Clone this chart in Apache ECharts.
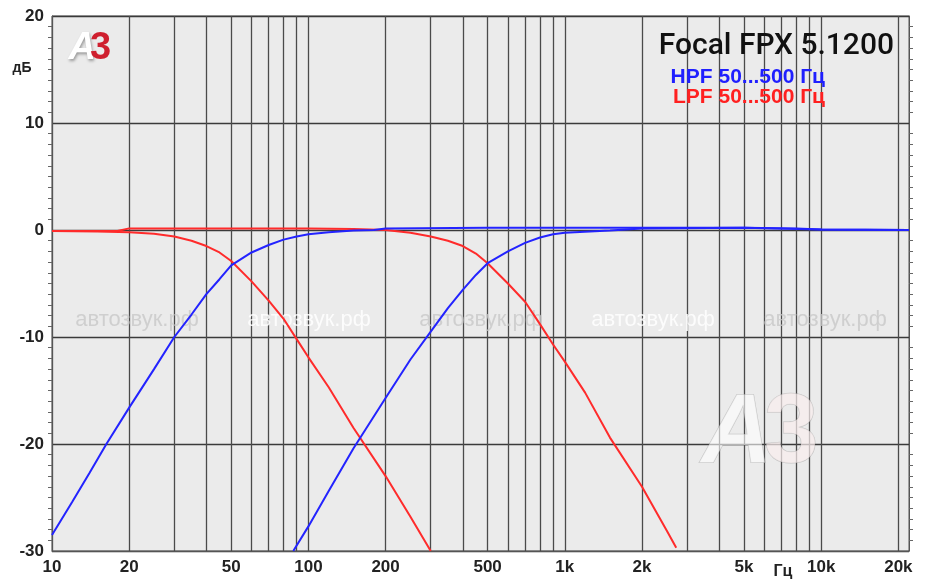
<!DOCTYPE html>
<html>
<head>
<meta charset="utf-8">
<script src="https://cdn.jsdelivr.net/npm/echarts@6/dist/echarts.min.js"></script>
<style>
html,body{margin:0;padding:0;background:#fff;}
#c{width:925px;height:582px;}
</style>
</head>
<body>
<div id="c"></div>
<script>
// ---- data (frequency in Hz, level in dB) ----
const hpf50Freq = [10, 12, 14, 16.3, 20, 25, 30, 35, 40, 45, 50, 60, 70, 80, 90, 100, 120, 150, 180, 200, 500, 1000, 2000, 5000, 8000, 10000, 22000];
const hpf50Db   = [-28.5, -25.4, -22.7, -20.0, -16.6, -13.0, -10.0, -7.9, -6.0, -4.6, -3.3, -2.1, -1.4, -0.9, -0.6, -0.4, -0.2, -0.05, 0.0, 0.15, 0.2, 0.2, 0.2, 0.2, 0.15, 0.05, 0.0];

const lpf50Freq = [10, 15, 20, 25, 30, 35, 40, 45, 50, 60, 70, 80, 90, 100, 120, 150, 200, 250, 300];
const lpf50Db   = [-0.1, -0.15, -0.2, -0.35, -0.6, -1.0, -1.5, -2.1, -2.9, -4.8, -6.6, -8.3, -10.2, -11.9, -14.7, -18.5, -23.0, -26.8, -30.0];

const hpf500Freq = [87.3, 100, 120, 150, 200, 250, 300, 350, 400, 450, 500, 600, 700, 800, 900, 1000, 1500, 2000, 5000, 10000, 22000];
const hpf500Db   = [-30.0, -27.7, -24.4, -20.4, -15.7, -12.1, -9.5, -7.3, -5.6, -4.2, -3.1, -2.0, -1.2, -0.7, -0.4, -0.25, -0.05, 0.15, 0.2, 0.05, 0.0];

const lpf500Freq = [10, 18, 20, 100, 150, 200, 250, 300, 350, 400, 450, 500, 600, 700, 800, 900, 1000, 1200, 1500, 2000, 2500, 2720];
const lpf500Db   = [-0.1, -0.1, 0.15, 0.15, 0.1, 0.0, -0.25, -0.6, -1.0, -1.5, -2.2, -3.1, -5.0, -6.7, -8.8, -10.7, -12.3, -15.2, -19.4, -24.0, -28.1, -29.7];

const gridFreqs  = [10,20,30,40,50,60,70,80,90,100,200,300,400,500,600,700,800,900,1000,2000,3000,4000,5000,6000,7000,8000,9000,10000,20000];
const labelFreqs = [10,20,50,100,200,500,1000,2000,5000,10000,20000];

const titleText = 'Focal FPX 5.1200';
const hpfText = 'HPF 50...500 Гц';
const lpfText = 'LPF 50...500 Гц';
const watermarkText = 'автозвук.рф';

const zip = (a, b) => a.map((v, i) => [v, b[i]]);

const chart = echarts.init(document.getElementById('c'), null, {renderer: 'canvas'});

const blue = '#2323ff';
const red = '#ff2b2b';
const lineSeries = (name, data, color) => ({
  name, type: 'line', data, showSymbol: false, symbol: 'none',
  smooth: false, clip: true,
  lineStyle: {color, width: 2}, z: 3
});

const wmX = [137, 309, 481, 653, 825];
const wmCol = ['rgba(200,200,200,0.8)', 'rgba(255,255,255,0.85)', 'rgba(200,200,200,0.8)', 'rgba(255,255,255,0.85)', 'rgba(200,200,200,0.8)'];

const graphics = [];
wmX.forEach((x, i) => graphics.push({
  type: 'text', x, y: 320, z: 1,
  style: {text: watermarkText, fill: wmCol[i], font: '22px "Liberation Sans", Arial, sans-serif', align: 'center', verticalAlign: 'middle'}
}));
graphics.push(
  {type: 'text', x: 772, y: 435, z: 1,
   style: {text: 'А', fill: 'rgba(255,255,255,0.6)', stroke: 'rgba(120,120,120,0.35)', lineWidth: 1,
           font: 'italic bold 98px "Liberation Sans", Arial, sans-serif', align: 'right', verticalAlign: 'middle'}},
  {type: 'text', x: 764, y: 435, z: 1,
   style: {text: '3', fill: 'rgba(250,238,238,0.7)', stroke: 'rgba(120,120,120,0.35)', lineWidth: 1,
           font: 'bold 98px "Liberation Sans", Arial, sans-serif', align: 'left', verticalAlign: 'middle'}},
  {type: 'text', x: 96, y: 49, z: 5,
   style: {text: 'А', fill: '#ffffff', font: 'italic bold 38px "Liberation Sans", Arial, sans-serif', align: 'right', verticalAlign: 'middle',
           textShadowColor: 'rgba(0,0,0,0.35)', textShadowBlur: 3, textShadowOffsetX: 1, textShadowOffsetY: 2}},
  {type: 'text', x: 90, y: 49, z: 5,
   style: {text: '3', fill: '#cf1f2e', font: 'bold 38px "Liberation Sans", Arial, sans-serif', align: 'left', verticalAlign: 'middle'}},
  {type: 'text', x: 894, y: 46, z: 5,
   style: {text: titleText, fill: '#111', font: '500 30px Roboto, "Liberation Sans", sans-serif', align: 'right', verticalAlign: 'middle'}},
  {type: 'text', x: 825, y: 77, z: 5,
   style: {text: hpfText, fill: '#1f1fff', font: 'bold 21px "Liberation Sans", Arial, sans-serif', align: 'right', verticalAlign: 'middle'}},
  {type: 'text', x: 825, y: 97, z: 5,
   style: {text: lpfText, fill: '#ff2020', font: 'bold 21px "Liberation Sans", Arial, sans-serif', align: 'right', verticalAlign: 'middle'}},
  {type: 'text', x: 22, y: 68, z: 5,
   style: {text: 'дБ', fill: '#222', font: 'bold 14px "Liberation Sans", Arial, sans-serif', align: 'center', verticalAlign: 'middle'}},
  {type: 'text', x: 783, y: 572, z: 5,
   style: {text: 'Гц', fill: '#222', font: 'bold 16px "Liberation Sans", Arial, sans-serif', align: 'center', verticalAlign: 'middle'}}
);

const option = {
  animation: false,
  backgroundColor: '#ffffff',
  grid: {left: 52, right: 16, top: 16, bottom: 31, show: true, backgroundColor: '#ebebeb', borderColor: '#555', borderWidth: 1},
  xAxis: [{
    type: 'log', logBase: 10, min: 10, max: 22000,
    axisLine: {show: true, onZero: false, lineStyle: {color: '#555'}},
    axisTick: {show: false, customValues: gridFreqs},
    splitLine: {show: true, lineStyle: {color: '#4a4a4a', width: 1.3}},
    axisLabel: {
      customValues: labelFreqs, margin: 8,
      formatter: v => v >= 1000 ? (v / 1000) + 'k' : String(v),
      color: '#222', fontWeight: 'bold', fontSize: 17, fontFamily: '"Liberation Sans Narrow", "Liberation Sans", Arial, sans-serif'
    }
  }],
  yAxis: [{
    type: 'value', min: -30, max: 20, interval: 10,
    axisLine: {show: true, lineStyle: {color: '#555'}},
    axisTick: {show: false},
    minorTick: {show: true, splitNumber: 10, length: 4, lineStyle: {color: '#666'}},
    splitLine: {show: true, lineStyle: {color: '#3a3a3a', width: 1.3}},
    axisLabel: {margin: 8, color: '#222', fontWeight: 'bold', fontSize: 17, fontFamily: '"Liberation Sans Narrow", "Liberation Sans", Arial, sans-serif'}
  }, {
    type: 'value', min: -30, max: 20, interval: 10, position: 'right',
    axisLine: {show: true, lineStyle: {color: '#555'}},
    axisTick: {show: false},
    minorTick: {show: true, splitNumber: 10, length: 4, lineStyle: {color: '#666'}},
    splitLine: {show: false},
    axisLabel: {show: false}
  }],
  graphic: {elements: graphics},
  series: [
    lineSeries('LPF 50', zip(lpf50Freq, lpf50Db), red),
    lineSeries('LPF 500', zip(lpf500Freq, lpf500Db), red),
    lineSeries('HPF 50', zip(hpf50Freq, hpf50Db), blue),
    lineSeries('HPF 500', zip(hpf500Freq, hpf500Db), blue)
  ]
};
chart.setOption(option);
</script>
</body>
</html>
